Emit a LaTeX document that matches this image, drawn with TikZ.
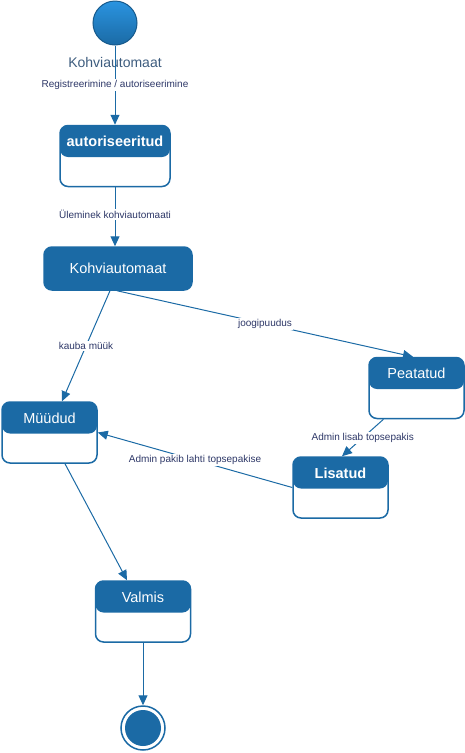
\documentclass[tikz,border=0pt]{standalone}
\usepackage{fontspec}
\setmainfont{Liberation Sans}
\usetikzlibrary{positioning}
\usetikzlibrary{arrows.meta}
\definecolor{stateblue}{HTML}{1B6AA5}
\definecolor{startblue}{HTML}{2A94E0}
\definecolor{labelnavy}{HTML}{2E3868}
\definecolor{captiongray}{HTML}{3D5C7E}
\tikzstyle{arrow} = [stateblue,line width=1pt,-{Triangle[length=10pt,width=9pt]}]

\begin{document}
\begin{tikzpicture}[x=1pt,y=-1pt,
  state/.style = {draw=stateblue,line width=1.5pt,rounded corners=8pt,fill=white,
        minimum width=95pt,inner ysep=0pt,text height=21pt,text depth=40pt,
        text=white,font=\fontsize{14.5}{17}\selectfont,
        path picture={\fill[stateblue] (path picture bounding box.north west)
          rectangle ([yshift=-31.5pt]path picture bounding box.north east);}},
  bigstate/.style = {draw=stateblue,line width=1.5pt,rounded corners=8pt,fill=stateblue,
        minimum width=148pt,minimum height=43pt,text=white,
        font=\fontsize{14.5}{17}\selectfont},
  initial/.style = {circle,minimum size=44pt,draw=stateblue!85!black,line width=1pt,
        top color=startblue,bottom color=stateblue},
  final/.style = {circle,minimum size=44pt,draw=stateblue,line width=1.5pt,fill=white},
  elabel/.style = {fill=white,text=labelnavy,inner sep=1.5pt,
        font=\fontsize{10}{12}\selectfont}]
 \useasboundingbox (0,0) rectangle (465,753);
 % states
 \node[initial] (start) at (115,23) {};
 \node[text=captiongray,font=\fontsize{14}{17}\selectfont] (caption) at (115,62) {Kohviautomaat};
 \node[state,minimum width=110pt,font=\fontsize{14.5}{17}\selectfont\bfseries] (auth) at (115,156) {autoriseeritud};
 \node[bigstate] (kohvi) at (118,268.5) {Kohviautomaat};
 \node[state] (myydud) at (49.5,432.5) {Müüdud};
 \node[state] (peat) at (416.5,388) {Peatatud};
 \node[state,font=\fontsize{14.5}{17}\selectfont\bfseries] (lisat) at (340.5,487.5) {Lisatud};
 \node[state] (valmis) at (143,611.5) {Valmis};
 \node[final] (end) at (143,728) {};
 \fill[stateblue] (end.center) circle (18pt);
 % transitions
 \draw[arrow] (start) -- node[elabel] {Registreerimine / autoriseerimine} (auth);
 \draw[arrow] (auth) -- node[elabel,pos=0.46] {Üleminek kohviautomaati} (auth|-kohvi.north);
 \draw[arrow] ([xshift=-8pt]kohvi.south) -- node[elabel] {kauba müük} ([xshift=12.5pt]myydud.north);
 \draw[arrow] ([xshift=-1pt]kohvi.south) -- node[elabel] {joogipuudus} ([xshift=-3.5pt]peat.north);
 \draw[arrow] ([xshift=-33pt]peat.south) -- node[elabel] {Admin lisab topsepakis} ([xshift=1.5pt]lisat.north);
 \draw[arrow] (lisat.west) -- node[elabel] {Admin pakib lahti topsepakise} (myydud.east);
 \draw[arrow] ([xshift=15.5pt]myydud.south) -- ([xshift=-16pt]valmis.north);
 \draw[arrow] (valmis) -- (end);
\end{tikzpicture}
\end{document}
